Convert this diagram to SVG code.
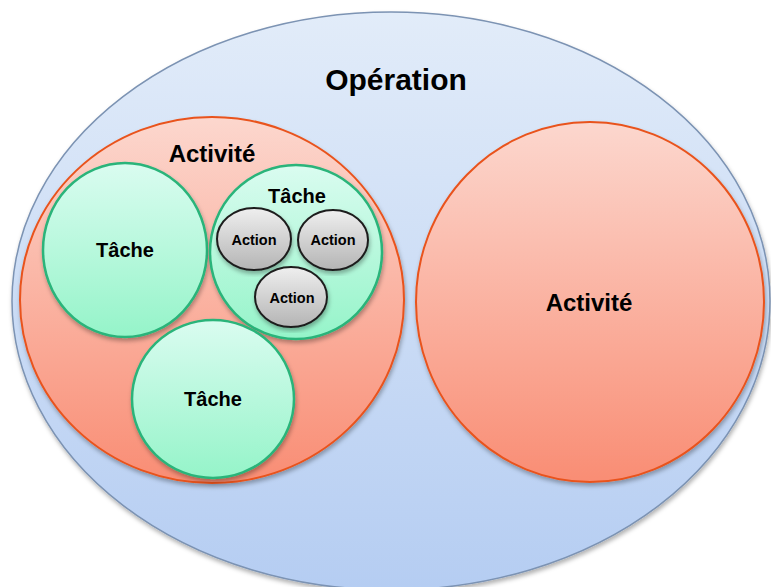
<svg xmlns="http://www.w3.org/2000/svg" width="771" height="587" viewBox="0 0 771 587">
<defs>
<linearGradient id="gBlue" x1="0" y1="0" x2="0" y2="1">
<stop offset="0" stop-color="#e2ecf9"/>
<stop offset="1" stop-color="#b5cdf2"/>
</linearGradient>
<linearGradient id="gRed" x1="0" y1="0" x2="0" y2="1">
<stop offset="0" stop-color="#fcd7ce"/>
<stop offset="1" stop-color="#f98d74"/>
</linearGradient>
<linearGradient id="gGreen" x1="0" y1="0" x2="0" y2="1">
<stop offset="0" stop-color="#dafcf0"/>
<stop offset="1" stop-color="#95f4c9"/>
</linearGradient>
<linearGradient id="gGray" x1="0" y1="0" x2="0" y2="1">
<stop offset="0" stop-color="#efefef"/>
<stop offset="1" stop-color="#b4b4b4"/>
</linearGradient>
<filter id="sh" x="-10%" y="-10%" width="120%" height="120%">
<feDropShadow dx="1" dy="3" stdDeviation="2" flood-color="#000" flood-opacity="0.3"/>
</filter>
</defs>
<style>
.op{fill:url(#gBlue);stroke:#7c93b3;stroke-width:1.5}
.act{fill:url(#gRed);stroke:#e9531c;stroke-width:2}
.tache{fill:url(#gGreen);stroke:#29b47a;stroke-width:2.5}
.action{fill:url(#gGray);stroke:#1e1e1e;stroke-width:2}
text{font-family:"Liberation Sans",Arial,sans-serif;font-weight:bold;fill:#000;text-anchor:middle}
</style>
<rect width="771" height="587" fill="#ffffff"/>
<g id="operation">
<ellipse class="op" cx="391" cy="301" rx="379" ry="289" filter="url(#sh)"/>
<text x="396" y="90" font-size="30">Opération</text>
</g>
<g id="activite1">
<ellipse class="act" cx="212" cy="300" rx="192" ry="183" filter="url(#sh)"/>
<text x="212" y="162" font-size="24">Activité</text>
</g>
<g id="activite2">
<ellipse class="act" cx="590" cy="302" rx="174" ry="180" filter="url(#sh)"/>
<text x="589" y="311" font-size="24">Activité</text>
</g>
<g id="tache1">
<ellipse class="tache" cx="125" cy="250" rx="82" ry="87" filter="url(#sh)"/>
<text x="125" y="257" font-size="20">Tâche</text>
</g>
<g id="tache2">
<ellipse class="tache" cx="296" cy="252" rx="86" ry="87" filter="url(#sh)"/>
<text x="297" y="203" font-size="20">Tâche</text>
</g>
<g id="tache3">
<ellipse class="tache" cx="213" cy="399" rx="81" ry="79" filter="url(#sh)"/>
<text x="213" y="406" font-size="20">Tâche</text>
</g>
<g id="action1">
<ellipse class="action" cx="254" cy="239" rx="37" ry="31" filter="url(#sh)"/>
<text x="254" y="245" font-size="14.5">Action</text>
</g>
<g id="action2">
<ellipse class="action" cx="333" cy="240" rx="35" ry="30" filter="url(#sh)"/>
<text x="333" y="245" font-size="14.5">Action</text>
</g>
<g id="action3">
<ellipse class="action" cx="291" cy="297" rx="36" ry="30" filter="url(#sh)"/>
<text x="292" y="303" font-size="14.5">Action</text>
</g>
<g id="connectors"/>
</svg>
